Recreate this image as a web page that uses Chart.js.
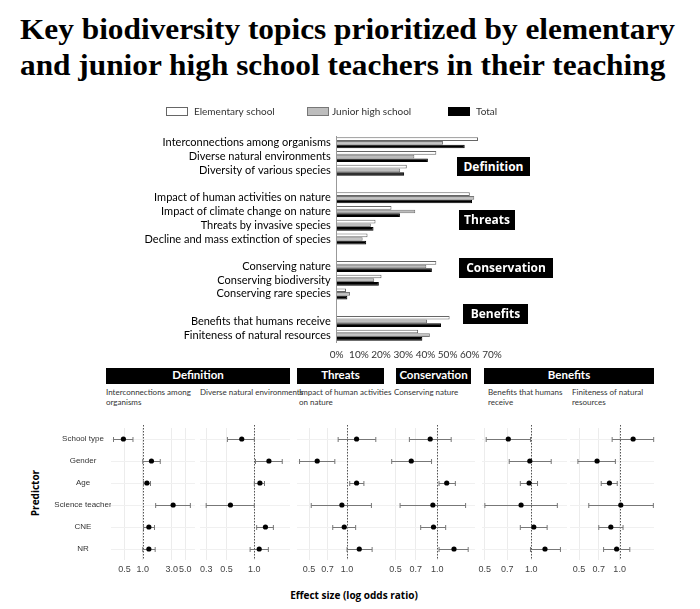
<!DOCTYPE html>
<html>
<head>
<meta charset="utf-8">
<script src="https://cdn.jsdelivr.net/npm/chart.js@4.4.0/dist/chart.umd.min.js"></script>
<style>
  body { margin: 0; background: #fff; width: 700px; height: 609px; position: relative; overflow: hidden; }
  #title { position: absolute; left: 20px; top: 11px; font: bold 29px "Liberation Serif", serif; line-height: 36px; white-space: nowrap; transform-origin: 0 0; color: #000; }
  canvas { position: absolute; }
  .sec { position: absolute; background: #000; color: #fff; font: bold 12px "Open Sans", sans-serif; text-align: center; }
  .hdr { position: absolute; top: 368px; height: 16px; line-height: 16px; background: #000; color: #fff; font: bold 11.5px Lato, sans-serif; text-align: center; }
  .sub { position: absolute; top: 387px; font: 8px Lato, sans-serif; line-height: 10px; color: #333; white-space: nowrap; }
  #xlab { position: absolute; top: 588px; left: 254px; width: 200px; text-align: center; font: bold 10px "Open Sans", sans-serif; }
  #ylab { position: absolute; left: 35px; top: 493px; font: bold 10px "Open Sans", sans-serif; transform: translate(-50%, -50%) rotate(-90deg); white-space: nowrap; }
</style>
</head>
<body>
<div id="title">Key biodiversity topics prioritized by elementary<br>and junior high school teachers in their teaching</div>

<canvas id="bars" width="700" height="269" style="left:0;top:95px;width:700px;height:269px"></canvas>

<div class="sec" style="left:457px;top:157px;width:73px;height:19px;line-height:19px">Definition</div>
<div class="sec" style="left:459px;top:210px;width:56px;height:20px;line-height:20px">Threats</div>
<div class="sec" style="left:459px;top:258px;width:94px;height:20px;line-height:20px">Conservation</div>
<div class="sec" style="left:463px;top:304px;width:65px;height:20px;line-height:20px">Benefits</div>

<div class="hdr" style="left:106px;width:184px">Definition</div>
<div class="hdr" style="left:297px;width:87px">Threats</div>
<div class="hdr" style="left:396px;width:75px">Conservation</div>
<div class="hdr" style="left:484px;width:170px">Benefits</div>

<div class="sub" style="left:106px">Interconnections among<br>organisms</div>
<div class="sub" style="left:200px">Diverse natural environments</div>
<div class="sub" style="left:299px">Impact of human activities<br>on nature</div>
<div class="sub" style="left:394px">Conserving nature</div>
<div class="sub" style="left:488px">Benefits that humans<br>receive</div>
<div class="sub" style="left:572px">Finiteness of natural<br>resources</div>

<div id="ylab">Predictor</div>
<div id="xlab">Effect size (log odds ratio)</div>

<script>
// ---- top chart: share of teachers choosing each topic (%)
const topics = [
  'Interconnections among organisms', 'Diverse natural environments', 'Diversity of various species', '',
  'Impact of human activities on nature', 'Impact of climate change on nature', 'Threats by invasive species',
  'Decline and mass extinction of species', '',
  'Conserving nature', 'Conserving biodiversity', 'Conserving rare species', '',
  'Benefits that humans receive', 'Finiteness of natural resources'
];
const elementary = [63.7, 44.9, 31.6, null, 60.0, 24.7, 17.5, 13.9, null, 44.9, 20.2, 4.2, null, 50.9, 36.7];
const juniorHigh = [47.9, 35.0, 28.6, null, 62.0, 35.4, 15.4, 11.7, null, 40.4, 16.9, 6.0, null, 40.7, 42.0];
const total      = [57.7, 41.1, 30.4, null, 61.0, 28.5, 16.6, 13.3, null, 42.9, 19.0, 4.8, null, 47.0, 38.6];
const pctTicks = [0, 10, 20, 30, 40, 50, 60, 70];

// ---- bottom chart: odds ratios with 95% CI, one row per outcome topic
const predictors = ['School type', 'Gender', 'Age', 'Science teacher', 'CNE', 'NR'];
const oddsRatio = [
  [0.48, 1.39, 1.17, 3.16, 1.26, 1.26],
  [0.73, 1.44, 1.15, 0.55, 1.32, 1.13],
  [1.19, 0.58, 1.19, 0.91, 0.95, 1.25],
  [0.89, 0.65, 1.17, 0.93, 0.94, 1.32],
  [0.71, 0.98, 0.97, 0.86, 1.04, 1.23],
  [1.26, 0.68, 0.84, 1.02, 0.86, 0.95]
];
const ciLower = [
  [0.33, 1.00, 1.03, 1.63, 1.03, 1.00],
  [0.51, 1.03, 1.00, 0.30, 1.06, 0.90],
  [0.85, 0.42, 1.05, 0.52, 0.77, 1.00],
  [0.63, 0.47, 1.03, 0.54, 0.76, 1.03],
  [0.51, 0.72, 0.85, 0.50, 0.85, 0.99],
  [0.88, 0.49, 0.73, 0.59, 0.70, 0.76]
];
const ciUpper = [
  [0.69, 1.94, 1.34, 6.07, 1.56, 1.60],
  [1.00, 2.01, 1.29, 1.00, 1.61, 1.42],
  [1.69, 0.80, 1.36, 1.56, 1.17, 1.58],
  [1.26, 0.91, 1.35, 1.60, 1.15, 1.67],
  [0.99, 1.35, 1.10, 1.48, 1.27, 1.55],
  [1.79, 0.93, 0.96, 1.78, 1.06, 1.19]
];
const orTicks = [[0.5, 1, 3, 5], [0.3, 0.5, 1], [0.5, 0.7, 1], [0.5, 0.7, 1], [0.5, 0.7, 1], [0.5, 0.7, 1]];

Chart.defaults.animation = false;

// squeeze the serif title to the figure width
const titleEl = document.getElementById('title');
const mctx = document.createElement('canvas').getContext('2d');
mctx.font = 'bold 29px "Liberation Serif"';
const tw = mctx.measureText('Key biodiversity topics prioritized by elementary').width;
titleEl.style.transform = 'scaleX(' + (655 / tw) + ')';

// legend laid out in three fixed columns like the original
const topLegend = {
  id: 'topLegend',
  afterDraw(chart) {
    const ctx = chart.ctx;
    const boxX = [166, 307, 448];
    const textX = [194, 332, 476];
    chart.data.datasets.forEach((ds, i) => {
      ctx.save();
      ctx.fillStyle = ds.backgroundColor;
      ctx.fillRect(boxX[i], 12, 22, 9);
      ctx.strokeStyle = ds.borderColor;
      ctx.lineWidth = 1;
      ctx.strokeRect(boxX[i] + 0.5, 12.5, 21, 8);
      ctx.fillStyle = '#333';
      ctx.font = '10px Lato';
      ctx.textBaseline = 'middle';
      ctx.fillText(ds.label, textX[i], 16.5);
      ctx.restore();
    });
  }
};

new Chart(document.getElementById('bars'), {
  type: 'bar',
  data: {
    labels: topics,
    datasets: [
      { label: 'Elementary school', data: elementary, backgroundColor: '#ffffff', borderColor: '#666', borderWidth: 1 },
      { label: 'Junior high school', data: juniorHigh, backgroundColor: '#bdbdbd', borderColor: '#777', borderWidth: 1 },
      { label: 'Total', data: total, backgroundColor: '#000000', borderColor: '#000000', borderWidth: 1 }
    ]
  },
  options: {
    indexAxis: 'y',
    responsive: false,
    layout: { padding: { top: 41, right: 208, left: 0, bottom: 0 } },
    datasets: { bar: { categoryPercentage: 0.8, barPercentage: 1 } },
    plugins: { legend: { display: false }, tooltip: { enabled: false } },
    scales: {
      x: {
        min: 0, max: 70,
        grid: { display: false, drawTicks: false },
        border: { display: false },
        afterBuildTicks: s => { s.ticks = pctTicks.map(v => ({ value: v })); },
        ticks: { callback: v => v + '%', font: { family: 'Lato', size: 10 }, color: '#333', padding: 7, maxRotation: 0, autoSkip: false },
        afterFit: s => { s.height = 22; }
      },
      y: {
        grid: { display: false, drawTicks: false },
        border: { color: '#999' },
        ticks: { font: { family: 'Lato', size: 11 }, color: '#000', padding: 6, autoSkip: false },
        afterFit: s => { s.width = 336.7; }
      }
    }
  },
  plugins: [topLegend]
});

// ---- forest plot panels
// [plot left, plot right, axis min, axis max]
const panels = [
  [111, 195, 0.317, 7.24],
  [200, 290, 0.257, 2.44],
  [297, 390, 0.401, 2.19],
  [388, 475, 0.442, 1.87],
  [482, 567, 0.479, 1.71],
  [570, 654, 0.428, 1.80]
];

const predFont = '8px "Liberation Sans"';
mctx.font = predFont;
const widestPred = Math.max(...predictors.map(t => mctx.measureText(t).width));

function forestBars(k) {
  return {
    id: 'forestBars' + k,
    beforeDatasetsDraw(chart) {
      const { ctx, chartArea: a, scales: { x, y } } = chart;
      ctx.save();
      const x1 = Math.round(x.getPixelForValue(1)) + 0.5;
      ctx.strokeStyle = '#555';
      ctx.lineWidth = 1;
      ctx.setLineDash([1.5, 1.5]);
      ctx.beginPath();
      ctx.moveTo(x1, a.top - 3);
      ctx.lineTo(x1, a.bottom);
      ctx.stroke();
      ctx.setLineDash([]);
      ctx.strokeStyle = '#777';
      predictors.forEach((p, i) => {
        const yy = Math.round(y.getPixelForValue(i)) + 0.5;
        const xl = x.getPixelForValue(ciLower[k][i]);
        const xh = x.getPixelForValue(ciUpper[k][i]);
        ctx.beginPath();
        ctx.moveTo(xl, yy); ctx.lineTo(xh, yy);
        ctx.moveTo(xl, yy - 2.5); ctx.lineTo(xl, yy + 2.5);
        ctx.moveTo(xh, yy - 2.5); ctx.lineTo(xh, yy + 2.5);
        ctx.stroke();
      });
      ctx.restore();
    }
  };
}

panels.forEach((p, k) => {
  const first = k === 0;
  const left = first ? 20 : p[0] - 20;
  const width = p[1] + 20 - left;
  const cv = document.createElement('canvas');
  cv.width = width; cv.height = 165;
  cv.style.left = left + 'px'; cv.style.top = '420px';
  cv.style.width = width + 'px'; cv.style.height = '165px';
  document.body.appendChild(cv);

  new Chart(cv, {
    type: 'scatter',
    data: {
      datasets: [{
        data: predictors.map((name, i) => ({ x: oddsRatio[k][i], y: name })),
        backgroundColor: '#000', borderColor: '#000', pointRadius: 2.6, pointBorderWidth: 0
      }]
    },
    options: {
      responsive: false,
      layout: { padding: { top: 8, left: first ? 0 : 20, right: 20, bottom: 0 } },
      plugins: { legend: { display: false }, tooltip: { enabled: false } },
      scales: {
        x: {
          type: 'logarithmic', min: p[2], max: p[3],
          afterBuildTicks: s => { s.ticks = orTicks[k].map(v => ({ value: v })); },
          ticks: { callback: v => Number(v).toFixed(1), font: { family: 'Liberation Sans', size: 9 }, color: '#444', padding: 4, maxRotation: 0, autoSkip: false },
          grid: { color: '#ececec', drawTicks: false },
          border: { display: false },
          afterFit: s => { s.height = 25; }
        },
        y: {
          type: 'category', labels: predictors, offset: true,
          display: true,
          grid: { color: '#f0f0f0', drawTicks: false },
          border: { display: false },
          // labels centred on x = 83 like the original
          ticks: { display: first, font: { family: 'Liberation Sans', size: 8 }, color: '#333', crossAlign: 'center', padding: (p[0] - 83) - widestPred / 2 },
          afterFit: s => { s.width = first ? p[0] - 20 : 0; }
        }
      }
    },
    plugins: [forestBars(k)]
  });
});
</script>
</body>
</html>
